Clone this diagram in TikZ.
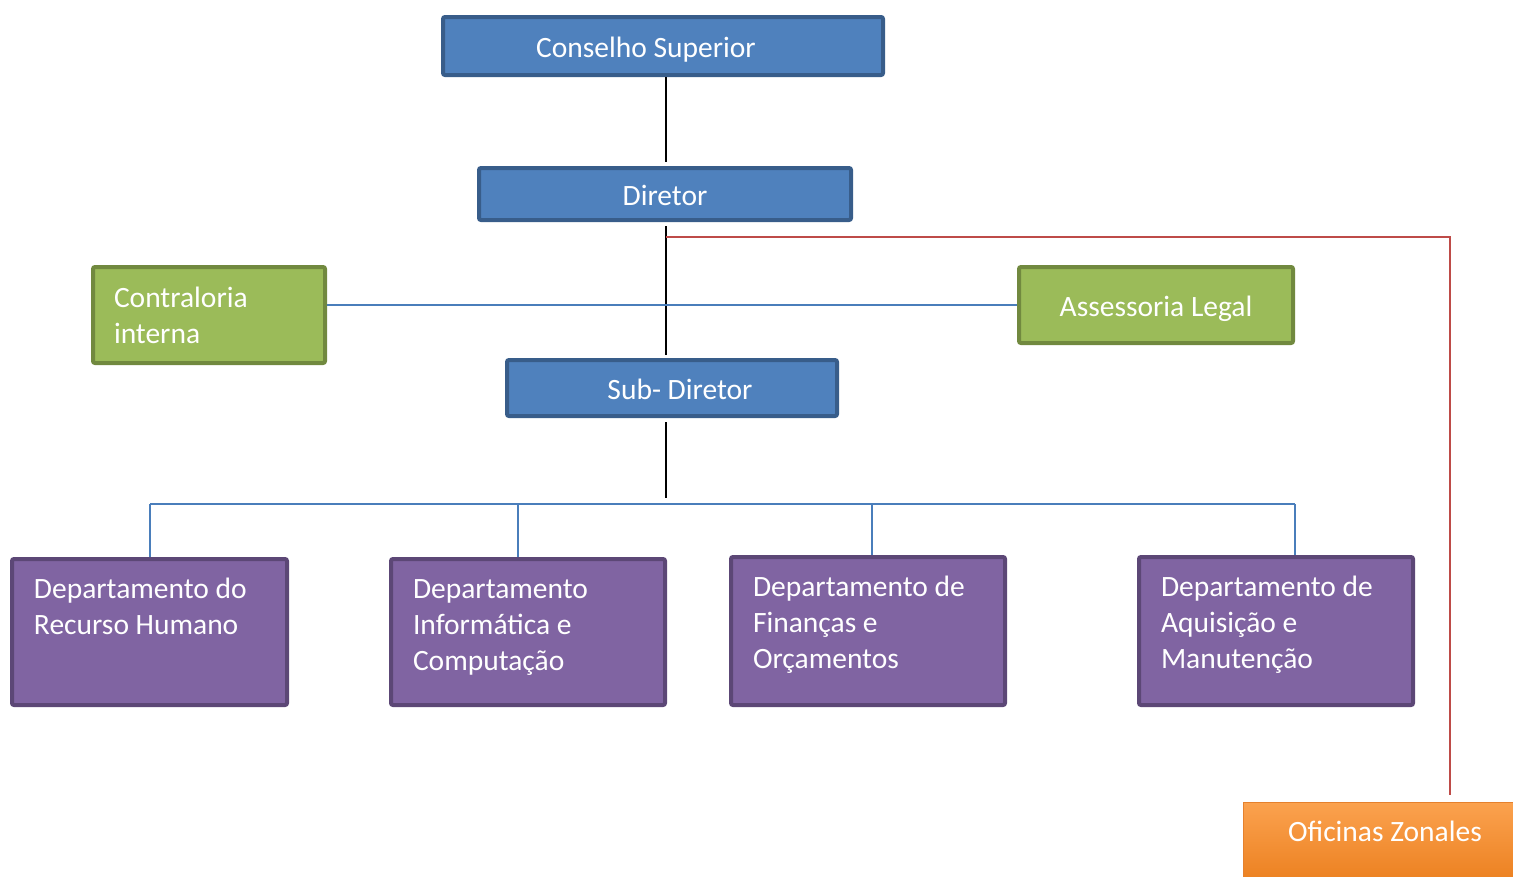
\documentclass[tikz,border=0pt]{standalone}
\usepackage{fontspec}
\setmainfont{Carlito}
\usetikzlibrary{calc}
\definecolor{bfill}{HTML}{4F81BD}
\definecolor{bline}{HTML}{385D8A}
\definecolor{gfill}{HTML}{9BBB59}
\definecolor{gline}{HTML}{71893F}
\definecolor{pfill}{HTML}{8064A2}
\definecolor{pline}{HTML}{5C4776}
\definecolor{otop}{HTML}{FBA24F}
\definecolor{obot}{HTML}{EC8121}
\definecolor{oline}{HTML}{E5812E}
\definecolor{conblue}{HTML}{4A7EBB}
\definecolor{conred}{HTML}{BE4B48}
\tikzset{
  every node/.style={font=\fontsize{29.5}{36}\selectfont, text=white},
  box/.style={rectangle, line width=4pt, rounded corners=2pt, inner sep=0pt},
  bluebox/.style={box, draw=bline, fill=bfill, text height=22pt, text depth=0pt},
  greenbox/.style={box, draw=gline, fill=gfill},
  purplebox/.style={box, draw=pline, fill=pfill},
  orangebox/.style={rectangle, draw=oline, line width=1pt, top color=otop, bottom color=obot, inner sep=0pt, text height=20pt, text depth=20pt},
  blackcon/.style={draw=black, line width=2pt},
  bluecon/.style={draw=conblue, line width=2pt},
  redcon/.style={draw=conred, line width=2pt},
}
\newcommand{\lbox}[3]{\parbox[c][#1pt][t]{#2pt}{\rule{0pt}{39pt}#3}}
\begin{document}
\begin{tikzpicture}[x=1pt,y=-1pt]
\useasboundingbox (0,0) rectangle (1513,876);
% top boxes
\node[bluebox, minimum width=440pt, minimum height=58pt] (cs) at (663,46) {Conselho Superior\kern34pt\relax};
\node[bluebox, minimum width=372pt, minimum height=52pt] (dir) at (665,194) {Diretor};
\node[bluebox, minimum width=330pt, minimum height=56pt] (sub) at (672,388) {\kern16pt Sub- Diretor};
% green boxes
\node[greenbox, minimum width=232pt, minimum height=96pt] (ci) at (209,315)
  {\parbox[c][96pt][t]{190pt}{\rule{0pt}{40pt}Contraloria\\interna}};
\node[greenbox, minimum width=274pt, minimum height=76pt, text height=22pt, text depth=0pt] (al) at (1156,305) {Assessoria Legal};
% purple boxes
\node[purplebox, minimum width=275pt, minimum height=146pt] (rh) at (149.5,632)
  {\lbox{146}{231}{Departamento do\\Recurso Humano}};
\node[purplebox, minimum width=274pt, minimum height=146pt] (inf) at (528,632)
  {\lbox{146}{230}{Departamento\\Informática e\\Computação}};
\node[purplebox, minimum width=274pt, minimum height=148pt] (fin) at (868,631)
  {\lbox{148}{230}{Departamento de\\Finanças e\\Orçamentos}};
\node[purplebox, minimum width=274pt, minimum height=148pt] (aq) at (1276,631)
  {\lbox{148}{230}{Departamento de\\Aquisição e\\Manutenção}};
% orange box
\node[orangebox, minimum width=284pt, minimum height=78pt] (oz) at (1385,841) {Oficinas Zonales};
% spine coordinates
\coordinate (s1) at (666,162);
\coordinate (s2) at (666,226);
\coordinate (s3) at (666,355);
\coordinate (s4) at (666,422);
\coordinate (s5) at (666,498);
\draw[blackcon] (s1 |- cs.south) -- (s1);
\draw[blackcon] (s2) -- (s3);
\draw[blackcon] (s4) -- (s5);
% advisory line
\draw[bluecon] (ci.east |- al.west) -- (al.west);
% red line
\coordinate (r0) at (666,237);
\coordinate (r1) at (1450,795);
\draw[redcon] (r0) -| (r1);
% department bus
\coordinate (b1) at (150,504);
\coordinate (b2) at (518,504);
\coordinate (b3) at (872,504);
\coordinate (b4) at (1295,504);
\draw[bluecon] (b1) -- (b4);
\draw[bluecon] (b1) -- (b1 |- rh.north);
\draw[bluecon] (b2) -- (b2 |- inf.north);
\draw[bluecon] (b3) -- (b3 |- fin.north);
\draw[bluecon] (b4) -- (b4 |- aq.north);
\end{tikzpicture}
\end{document}
